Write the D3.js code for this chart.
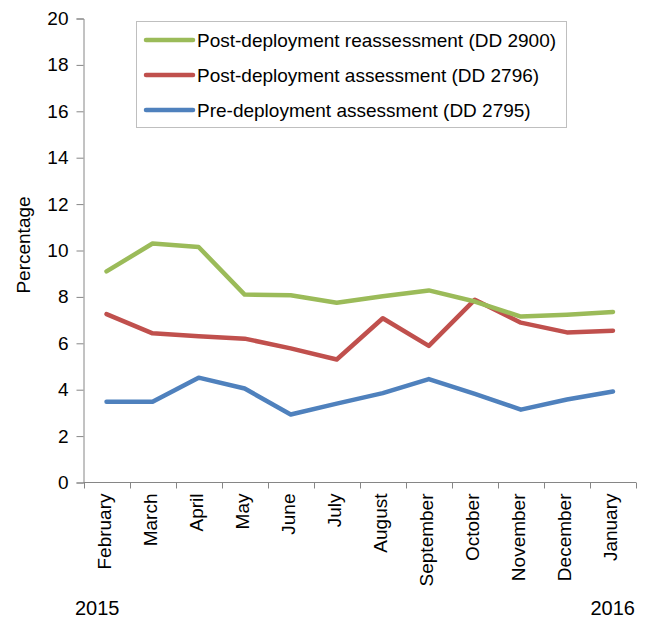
<!DOCTYPE html>
<html lang="en">
<head>
<meta charset="utf-8">
<title>Assessments by month</title>
<script src="https://cdn.jsdelivr.net/npm/d3@7"></script>
<style>
  body { margin: 0; background: #fff; }
  text { font-family: "Liberation Sans", Arial, sans-serif; fill: #000; }
</style>
</head>
<body>
<div id="chart"></div>
<script>
// months, Feb 2015 - Jan 2016
var months = ["February", "March", "April", "May", "June", "July", "August",
  "September", "October", "November", "December", "January"];
var reassess = [9.1, 10.3, 10.15, 8.1, 8.07, 7.75, 8.03, 8.28, 7.8, 7.15, 7.23, 7.35];
var postAssess = [7.26, 6.43, 6.3, 6.2, 5.78, 5.3, 7.08, 5.89, 7.88, 6.89, 6.47, 6.54];
var preAssess = [3.48, 3.48, 4.52, 4.05, 2.93, 3.4, 3.85, 4.46, 3.82, 3.14, 3.58, 3.92];
var yTicks = [0, 2, 4, 6, 8, 10, 12, 14, 16, 18, 20];

var series = [
  { name: "Post-deployment reassessment (DD 2900)", values: reassess, color: "#9BBB59" },
  { name: "Post-deployment assessment (DD 2796)", values: postAssess, color: "#C0504D" },
  { name: "Pre-deployment assessment (DD 2795)", values: preAssess, color: "#4F81BD" }
];

var w = 650, h = 618;
var fs = "19px";
var svg = d3.select("#chart").append("svg")
  .attr("width", w)
  .attr("height", h);

var x = d3.scaleBand().domain(months).range([83.5, 636]);
var y = d3.scaleLinear().domain([0, 20]).range([482.5, 18.5]);

var axisColor = "#868686";

// y axis
var yAxis = svg.append("g")
  .attr("transform", "translate(83.5,0)")
  .call(d3.axisLeft(y).tickValues(yTicks).tickSize(7).tickPadding(8));
yAxis.selectAll("text").style("font-size", fs);

// x axis with ticks at band edges
var xAxis = svg.append("g")
  .attr("transform", "translate(0,482.5)");
xAxis.append("line")
  .attr("x1", x.range()[0]).attr("x2", x.range()[1])
  .attr("stroke", axisColor);
xAxis.selectAll(".edge")
  .data(months.concat(["end"]))
  .enter().append("line")
  .attr("class", "edge")
  .attr("x1", function(d, i) { return Math.round(x.range()[0] + i * x.bandwidth()) + 0.5; })
  .attr("x2", function(d, i) { return Math.round(x.range()[0] + i * x.bandwidth()) + 0.5; })
  .attr("y1", 0).attr("y2", 6)
  .attr("stroke", axisColor);
xAxis.selectAll(".lbl")
  .data(months)
  .enter().append("text")
  .attr("class", "lbl")
  .attr("transform", function(d) {
    return "translate(" + (x(d) + x.bandwidth() / 2 + 4.5) + ",11) rotate(-90)";
  })
  .attr("text-anchor", "end")
  .style("font-size", fs)
  .text(function(d) { return d; });

svg.selectAll(".domain, .tick line").attr("stroke", axisColor);

// axis titles and years
svg.append("text")
  .attr("transform", "translate(30,245) rotate(-90)")
  .attr("text-anchor", "middle")
  .style("font-size", fs)
  .text("Percentage");
svg.append("text")
  .attr("x", 75).attr("y", 615)
  .style("font-size", "20px")
  .text("2015");
svg.append("text")
  .attr("x", 635).attr("y", 615)
  .attr("text-anchor", "end")
  .style("font-size", "20px")
  .text("2016");

// lines
var line = d3.line()
  .x(function(d, i) { return x(months[i]) + x.bandwidth() / 2; })
  .y(function(d) { return y(d); });

svg.selectAll(".series")
  .data(series.slice().reverse())
  .enter().append("path")
  .attr("class", "series")
  .attr("d", function(d) { return line(d.values); })
  .attr("fill", "none")
  .attr("stroke", function(d) { return d.color; })
  .attr("stroke-width", 4.5)
  .attr("stroke-linecap", "round")
  .attr("stroke-linejoin", "round");

// legend
var legend = svg.append("g");
legend.append("rect")
  .attr("x", 136.5).attr("y", 21.5)
  .attr("width", 430).attr("height", 106)
  .attr("fill", "#fff")
  .attr("stroke", "#bfbfbf");
var item = legend.selectAll(".item")
  .data(series)
  .enter().append("g")
  .attr("class", "item")
  .attr("transform", function(d, i) { return "translate(0," + (40 + i * 35) + ")"; });
item.append("line")
  .attr("x1", 146).attr("x2", 193)
  .attr("stroke", function(d) { return d.color; })
  .attr("stroke-width", 4.5)
  .attr("stroke-linecap", "round");
item.append("text")
  .attr("x", 197).attr("y", 7)
  .style("font-size", fs)
  .text(function(d) { return d.name; });
</script>
</body>
</html>
